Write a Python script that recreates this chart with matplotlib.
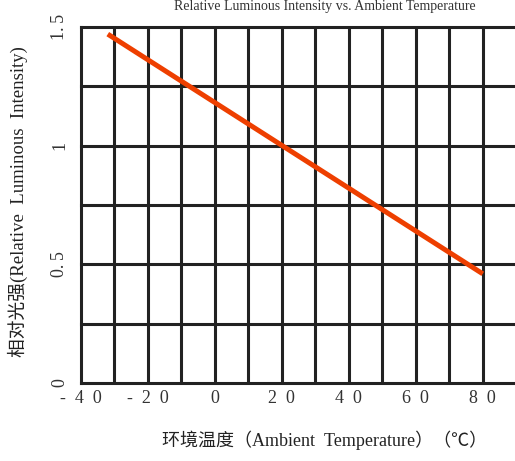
import matplotlib
matplotlib.use('Agg')
import matplotlib.pyplot as plt
import numpy as np

plt.rcParams['font.family'] = ['Liberation Serif', 'Noto Sans CJK SC']

# data
temperature = [-32, 80]
intensity = [1.47, 0.46]

x_ticks = [-40, -20, 0, 20, 40, 60, 80]
x_labels = ['-40', '-20', '0', '20', '40', '60', '80']
y_ticks = [0, 0.5, 1, 1.5]
y_labels = ['0', '0.5', '1', '1.5']


def spaced(s, sep='\u2002'):
    # the reference prints its numbers with wide letter spacing
    return sep.join(s)


W, H = 515, 461
fig = plt.figure(figsize=(W / 100, H / 100), dpi=100)

# axes runs past the right edge of the picture, as in the reference
left, right, top, bottom = 81, 533, 27, 383
ax = fig.add_axes([left / W, 1 - bottom / H, (right - left) / W, (bottom - top) / H])
ax.set_xlim(-40, 95)
ax.set_ylim(0, 1.5)

grid_col = '#222222'
for gx in np.arange(-30, 95, 10):
    ax.axvline(gx, color=grid_col, lw=2.2, zorder=1)
for gy in np.arange(0.25, 1.51, 0.25):
    ax.axhline(gy, color=grid_col, lw=2.2, zorder=1, clip_on=False)

ax.plot(temperature, intensity, color='#EE3F00', lw=3.6, solid_capstyle='butt', zorder=3)

for s in ['top', 'right']:
    ax.spines[s].set_visible(False)
for s in ['left', 'bottom']:
    ax.spines[s].set_linewidth(2.2)
    ax.spines[s].set_color(grid_col)

ax.set_xticks(x_ticks)
ax.set_xticklabels([spaced(t) for t in x_labels], fontsize=13, color='#333333')
ax.set_yticks(y_ticks)
ax.set_yticklabels([t.replace('.', '.\u2009') for t in y_labels], fontsize=13, rotation=90,
                   va='center', color='#333333')
ax.tick_params(length=0, pad=5)
ax.tick_params(axis='y', pad=9)

fig.text(325 / W, 1 - 440 / H, '环境温度（Ambient\u2002Temperature）（℃）', fontsize=13,
         ha='center', va='center', color='#222222')
fig.text(18 / W, 1 - 202 / H, '相对光强(Relative\u2002Luminous\u2002Intensity)', fontsize=13.5,
         ha='center', va='center', rotation=90, color='#222222')
# title sits at the very top edge in the reference
fig.text(325 / W, 1, 'Relative Luminous Intensity vs. Ambient Temperature',
         fontsize=10, ha='center', va='top', color='#333333')

fig.savefig('out.png', dpi=100)
